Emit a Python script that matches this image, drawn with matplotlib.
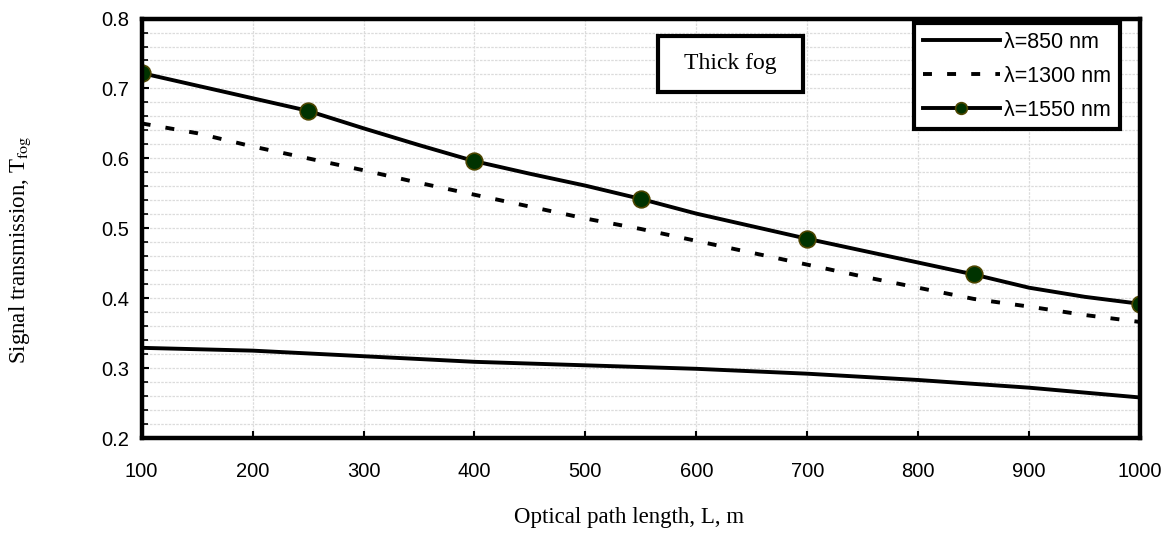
import matplotlib
matplotlib.use('Agg')
import matplotlib.pyplot as plt
from matplotlib.patches import Rectangle
from matplotlib.ticker import MultipleLocator, FormatStrFormatter

plt.rcParams['font.family'] = ['Liberation Sans', 'DejaVu Sans']
plt.rcParams['mathtext.fontset'] = 'stix'

# Data
x_850 = [100, 200, 300, 400, 500, 600, 700, 800, 900, 1000]
t_850 = [0.329, 0.325, 0.317, 0.309, 0.304, 0.299, 0.292, 0.283, 0.272, 0.258]

x_fine = [100, 150, 200, 250, 300, 350, 400, 450, 500, 550,
          600, 650, 700, 750, 800, 850, 900, 950, 1000]
t_1300 = [0.650, 0.636, 0.617, 0.600, 0.583, 0.565, 0.548, 0.531, 0.514, 0.499,
          0.482, 0.465, 0.448, 0.431, 0.415, 0.399, 0.388, 0.376, 0.366]
t_1550 = [0.722, 0.704, 0.686, 0.668, 0.643, 0.619, 0.596, 0.578, 0.561, 0.542,
          0.521, 0.503, 0.485, 0.468, 0.451, 0.434, 0.415, 0.402, 0.392]

labels = ['λ=850 nm', 'λ=1300 nm', 'λ=1550 nm']
x_ticks = [100, 200, 300, 400, 500, 600, 700, 800, 900, 1000]

fig = plt.figure(figsize=(11.69, 5.33), dpi=100)
ax = fig.add_axes([0.1212, 0.1782, 0.854, 0.787])

# Curves
ax.plot(x_850, t_850, color='black', lw=2.8, label=labels[0])
ax.plot(x_fine, t_1300, color='black', lw=2.8, dashes=(2.3, 3.9), label=labels[1])
ax.plot(x_fine, t_1550, color='black', lw=2.8, marker='o', markersize=12,
        markerfacecolor='#003300', markeredgecolor='#4d4500', markeredgewidth=1.2,
        markevery=3, label=labels[2])

# Axes range and ticks
ax.set_xlim(100, 1000)
ax.set_ylim(0.2, 0.8)
ax.set_xticks(x_ticks)
ax.yaxis.set_major_locator(MultipleLocator(0.1))
ax.yaxis.set_minor_locator(MultipleLocator(0.02))
ax.yaxis.set_major_formatter(FormatStrFormatter('%.1f'))
ax.tick_params(axis='both', which='major', direction='in', length=5, width=1.5,
               labelsize=14.5, top=False, right=False)
ax.tick_params(axis='x', pad=17)
ax.tick_params(axis='y', pad=9)
ax.tick_params(axis='y', which='minor', direction='in', length=4, width=1.2, right=False)

# Grid
ax.grid(True, which='major', axis='x', color='#dcdcdc', lw=0.9, ls=(0, (2, 1)))
ax.grid(True, which='both', axis='y', color='#dcdcdc', lw=0.9, ls=(0, (2, 1)))
ax.set_axisbelow(True)

for s in ax.spines.values():
    s.set_linewidth(3.2)
    s.set_color('black')

# Labels
ax.set_xlabel('Optical path length, L, m', family='Liberation Serif', fontsize=16.5)
ax.xaxis.set_label_coords(0.488, -0.165)
ax.set_ylabel(r'Signal transmission, T$_{\mathrm{fog}}$', family='Liberation Serif', fontsize=16.5)
ax.yaxis.set_label_coords(-0.1086, 0.45)

# "Thick fog" box
ax.add_patch(Rectangle((0.517, 0.8255), 0.145, 0.1325, transform=ax.transAxes,
                       facecolor='white', edgecolor='black', lw=3, zorder=5))
ax.text(0.5895, 0.892, 'Thick fog', transform=ax.transAxes, family='Liberation Serif',
        fontsize=17, ha='center', va='center', zorder=6)

# Legend
leg = ax.legend(loc='upper right', bbox_to_anchor=(0.980, 0.989), borderaxespad=0,
                fontsize=15.5, handlelength=3.6, handletextpad=0.2, labelspacing=0.6,
                borderpad=0.4, fancybox=False, framealpha=1, markerscale=0.7)
leg.get_frame().set_edgecolor('black')
leg.get_frame().set_linewidth(3)

plt.savefig('out.png', dpi=100)
